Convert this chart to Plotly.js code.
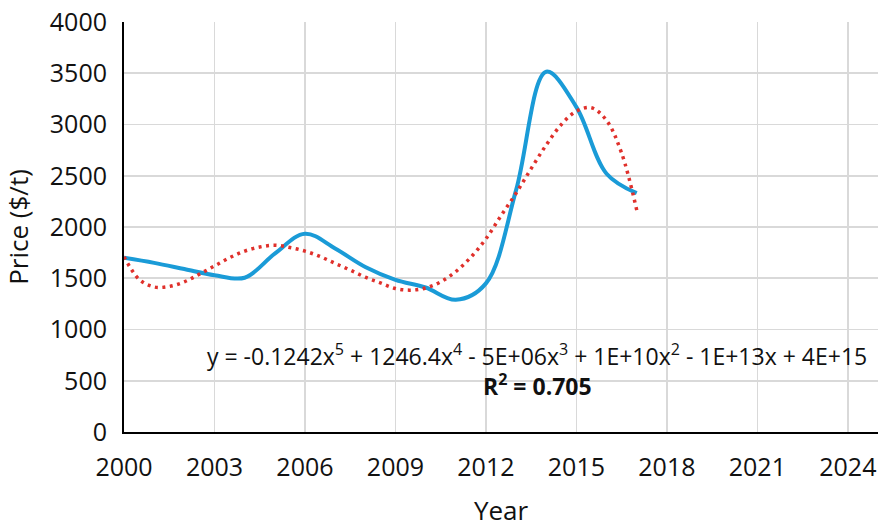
<!DOCTYPE html>
<html>
<head>
<meta charset="utf-8">
<script src="https://cdn.plot.ly/plotly-3.0.1.min.js"></script>
<style>html,body{margin:0;padding:0;background:#fff;}#chart{width:878px;height:528px;}</style>
</head>
<body>
<div id="chart"></div>
<script>
// Observed annual prices ($/t)
const years = [2000,2001,2002,2003,2004,2005,2006,2007,2008,2009,2010,2011,2012,2013,2014,2015,2016,2017];
const prices = [1700,1650,1590,1530,1505,1740,1935,1790,1610,1485,1410,1290,1450,2360,3515,3170,2520,2330];

// Polynomial trendline
const trendYears = [2000,2000.5,2001,2001.5,2002,2002.5,2003,2003.5,2004,2004.5,2005,2005.5,2006,2006.5,2007,2007.5,2008,2008.5,2009,2009.5,2010,2010.5,2011,2011.5,2012,2012.5,2013,2013.5,2014,2014.5,2015,2015.5,2016,2016.5,2017];
const trendValues = [1710,1490,1415,1420,1465,1540,1620,1700,1765,1805,1822,1800,1765,1712,1645,1580,1510,1455,1400,1384,1405,1465,1565,1705,1885,2110,2330,2570,2800,3000,3130,3163,3040,2720,2165];

const xTicks = [2000,2003,2006,2009,2012,2015,2018,2021,2024];
const yTicks = [0,500,1000,1500,2000,2500,3000,3500,4000];

const eqText = "y = -0.1242x<sup>5</sup> + 1246.4x<sup>4</sup> - 5E+06x<sup>3</sup> + 1E+10x<sup>2</sup> - 1E+13x + 4E+15";
const r2Text = "<b>R<sup>2</sup> = 0.705</b>";

const FONT = "Open Sans, Lato, sans-serif";

const traces = [
  {x: years, y: prices, type: 'scatter', mode: 'lines',
   line: {color: '#1a9bd7', width: 4, shape: 'spline', smoothing: 1}, hoverinfo: 'none'},
  {x: trendYears, y: trendValues, type: 'scatter', mode: 'lines',
   line: {color: '#e0302b', width: 3.5, shape: 'spline', smoothing: 1, dash: '3px,4.5px'}, hoverinfo: 'none'}
];

const layout = {
  width: 878, height: 528,
  margin: {l: 124, r: 0, t: 22, b: 96},
  paper_bgcolor: '#fff', plot_bgcolor: '#fff',
  showlegend: false,
  font: {family: FONT, color: '#111', size: 25},
  xaxis: {
    range: [2000, 2025], tickvals: xTicks, ticktext: xTicks.map(String),
    showgrid: true, gridcolor: '#d9d9d9', gridwidth: 1.6,
    showline: true, linecolor: '#000', linewidth: 2,
    zeroline: false, ticks: '', ticklabelstandoff: 12,
    tickfont: {family: FONT, size: 25, color: '#111'},
    title: {text: 'Year', font: {family: FONT, size: 26, color: '#111'}, standoff: 22}
  },
  yaxis: {
    range: [0, 4000], tickvals: yTicks, ticktext: yTicks.map(String),
    showgrid: true, gridcolor: '#d9d9d9', gridwidth: 1.6,
    showline: true, linecolor: '#000', linewidth: 2,
    zeroline: false, ticks: '', ticklabelstandoff: 10,
    tickfont: {family: FONT, size: 25, color: '#111'},
    title: {text: 'Price ($/t)', font: {family: FONT, size: 26, color: '#111'}, standoff: 14}
  },
  annotations: [
    {xref: 'x', yref: 'y', x: 2013.7, y: 755, text: eqText, showarrow: false,
     font: {family: FONT, size: 23, color: '#111'}, xanchor: 'center', yanchor: 'middle'},
    {xref: 'x', yref: 'y', x: 2013.7, y: 458, text: r2Text, showarrow: false,
     font: {family: FONT, size: 23, color: '#111'}, xanchor: 'center', yanchor: 'middle'}
  ]
};

Plotly.newPlot('chart', traces, layout, {displayModeBar: false, staticPlot: true});
</script>
</body>
</html>
